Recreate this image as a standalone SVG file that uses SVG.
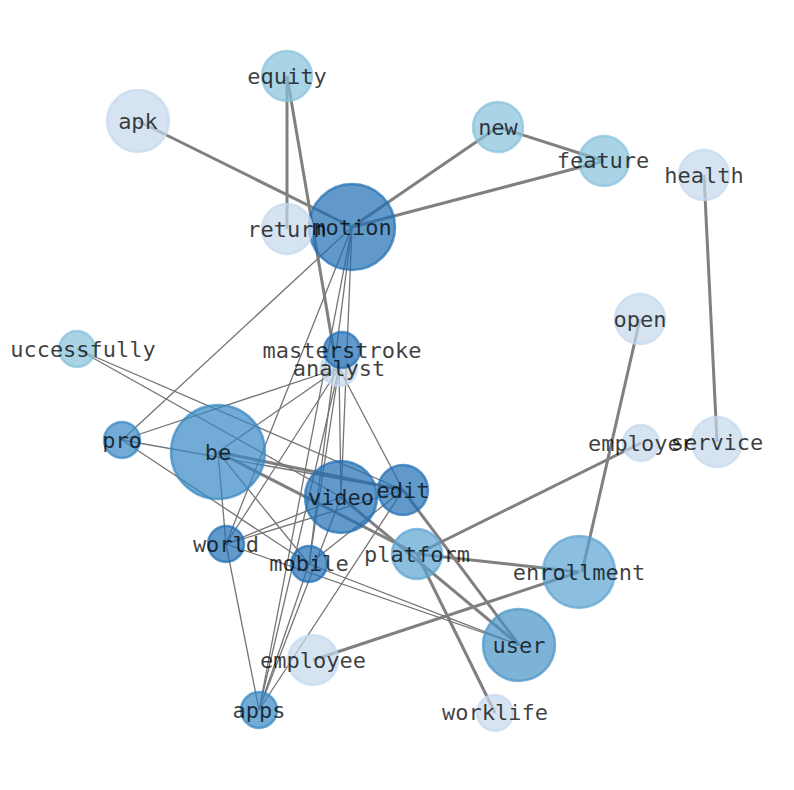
<svg xmlns="http://www.w3.org/2000/svg" width="794" height="790" viewBox="0 0 794 790">
<style>
.bg{fill:#ffffff}
.e1{stroke:#808080;stroke-width:3;fill:none}
.e2{stroke:#757575;stroke-width:1.3;fill:none}
circle{stroke-width:2.5;fill-opacity:0.7;stroke-opacity:0.7}
.vl{fill:#c4d8ec;stroke:#c4d8ec}
.lb{fill:#86c0db;stroke:#86c0db}
.pm{fill:#5ba2d1;stroke:#5ba2d1}
.md{fill:#3687c3;stroke:#3687c3}
.um{fill:#4793c7;stroke:#4793c7}
.dk{fill:#206db5;stroke:#206db5}
text{font-family:"DejaVu Sans Mono",monospace;font-size:22px;fill:#000;fill-opacity:0.75;text-anchor:middle;dominant-baseline:central}
</style>
<rect class="bg" x="0" y="0" width="794" height="790"/>
<g id="connectors">
<line class="e1" x1="138" y1="121" x2="352" y2="227"/>
<line class="e1" x1="287" y1="76" x2="287" y2="229"/>
<line class="e1" x1="287" y1="76" x2="334" y2="352"/>
<line class="e1" x1="498" y1="127" x2="352" y2="227"/>
<line class="e1" x1="498" y1="127" x2="604" y2="161"/>
<line class="e1" x1="352" y1="227" x2="604" y2="161"/>
<line class="e1" x1="704" y1="175" x2="717" y2="442"/>
<line class="e1" x1="640" y1="319" x2="582" y2="572"/>
<line class="e1" x1="641" y1="443" x2="417" y2="554"/>
<line class="e1" x1="417" y1="554" x2="579" y2="572"/>
<line class="e1" x1="313" y1="660" x2="579" y2="572"/>
<line class="e1" x1="417" y1="554" x2="495" y2="713"/>
<line class="e1" x1="341" y1="497" x2="519" y2="645"/>
<line class="e1" x1="403" y1="490" x2="519" y2="645"/>
<line class="e1" x1="218" y1="452" x2="403" y2="490"/>
<line class="e1" x1="218" y1="452" x2="417" y2="554"/>
<line class="e2" x1="352" y1="227" x2="122" y2="440"/>
<line class="e2" x1="352" y1="227" x2="226" y2="544"/>
<line class="e2" x1="352" y1="227" x2="309" y2="564"/>
<line class="e2" x1="352" y1="227" x2="259" y2="710"/>
<line class="e2" x1="352" y1="227" x2="341" y2="497"/>
<line class="e2" x1="77" y1="349" x2="403" y2="490"/>
<line class="e2" x1="77" y1="349" x2="341" y2="497"/>
<line class="e2" x1="122" y1="440" x2="339" y2="368"/>
<line class="e2" x1="122" y1="440" x2="403" y2="490"/>
<line class="e2" x1="122" y1="440" x2="309" y2="564"/>
<line class="e2" x1="218" y1="452" x2="339" y2="368"/>
<line class="e2" x1="218" y1="452" x2="226" y2="544"/>
<line class="e2" x1="218" y1="452" x2="309" y2="564"/>
<line class="e2" x1="339" y1="368" x2="226" y2="544"/>
<line class="e2" x1="339" y1="368" x2="309" y2="564"/>
<line class="e2" x1="339" y1="368" x2="259" y2="710"/>
<line class="e2" x1="339" y1="368" x2="403" y2="490"/>
<line class="e2" x1="339" y1="368" x2="341" y2="497"/>
<line class="e2" x1="226" y1="544" x2="341" y2="497"/>
<line class="e2" x1="226" y1="544" x2="403" y2="490"/>
<line class="e2" x1="226" y1="544" x2="259" y2="710"/>
<line class="e2" x1="226" y1="544" x2="519" y2="645"/>
<line class="e2" x1="309" y1="564" x2="403" y2="490"/>
<line class="e2" x1="309" y1="564" x2="519" y2="645"/>
<line class="e2" x1="309" y1="564" x2="259" y2="710"/>
<line class="e2" x1="341" y1="497" x2="259" y2="710"/>
<line class="e2" x1="403" y1="490" x2="259" y2="710"/>
</g>
<g id="node-equity"><circle class="lb" cx="287" cy="76" r="25"/><text x="287" y="76">equity</text></g>
<g id="node-apk"><circle class="vl" cx="138" cy="121" r="31"/><text x="138" y="121">apk</text></g>
<g id="node-new"><circle class="lb" cx="498" cy="127" r="25"/><text x="498" y="127">new</text></g>
<g id="node-feature"><circle class="lb" cx="604" cy="161" r="25"/><text x="603" y="160">feature</text></g>
<g id="node-health"><circle class="vl" cx="704" cy="175" r="25"/><text x="704" y="175">health</text></g>
<g id="node-motion"><circle class="dk" cx="352" cy="227" r="43"/><text x="352" y="227">motion</text></g>
<g id="node-return"><circle class="vl" cx="287" cy="229" r="25"/><text x="287" y="229">return</text></g>
<g id="node-open"><circle class="vl" cx="640" cy="319" r="25"/><text x="640" y="319">open</text></g>
<g id="node-successfully"><circle class="lb" cx="77" cy="349" r="18"/><text x="83" y="349">uccessfully</text></g>
<g id="node-analyst"><circle class="vl" cx="339" cy="368" r="18"/></g>
<g id="node-masterstroke"><circle class="dk" cx="342" cy="350" r="18"/><text x="342" y="350">masterstroke</text></g>
<g id="node-analyst-label"><text x="339" y="368">analyst</text></g>
<g id="node-pro"><circle class="md" cx="122" cy="440" r="18"/><text x="122" y="440">pro</text></g>
<g id="node-be"><circle class="md" cx="218" cy="452" r="47"/><text x="218" y="452">be</text></g>
<g id="node-employer"><circle class="vl" cx="641" cy="443" r="18"/><text x="641" y="443">employer</text></g>
<g id="node-service"><circle class="vl" cx="717" cy="442" r="25"/><text x="717" y="442">service</text></g>
<g id="node-video"><circle class="dk" cx="341" cy="497" r="36"/><text x="341" y="497">video</text></g>
<g id="node-edit"><circle class="dk" cx="403" cy="490" r="25"/><text x="403" y="490">edit</text></g>
<g id="node-world"><circle class="dk" cx="226" cy="544" r="18"/><text x="226" y="544">world</text></g>
<g id="node-mobile"><circle class="dk" cx="309" cy="564" r="18"/><text x="309" y="563">mobile</text></g>
<g id="node-platform"><circle class="pm" cx="417" cy="554" r="25"/><text x="417" y="554">platform</text></g>
<g id="node-enrollment"><circle class="pm" cx="579" cy="572" r="36"/><text x="579" y="572">enrollment</text></g>
<g id="node-user"><circle class="um" cx="519" cy="645" r="36"/><text x="519" y="645">user</text></g>
<g id="node-employee"><circle class="vl" cx="313" cy="660" r="25"/><text x="313" y="660">employee</text></g>
<g id="node-apps"><circle class="md" cx="259" cy="710" r="18"/><text x="259" y="710">apps</text></g>
<g id="node-worklife"><circle class="vl" cx="495" cy="713" r="18"/><text x="495" y="712">worklife</text></g>
</svg>
